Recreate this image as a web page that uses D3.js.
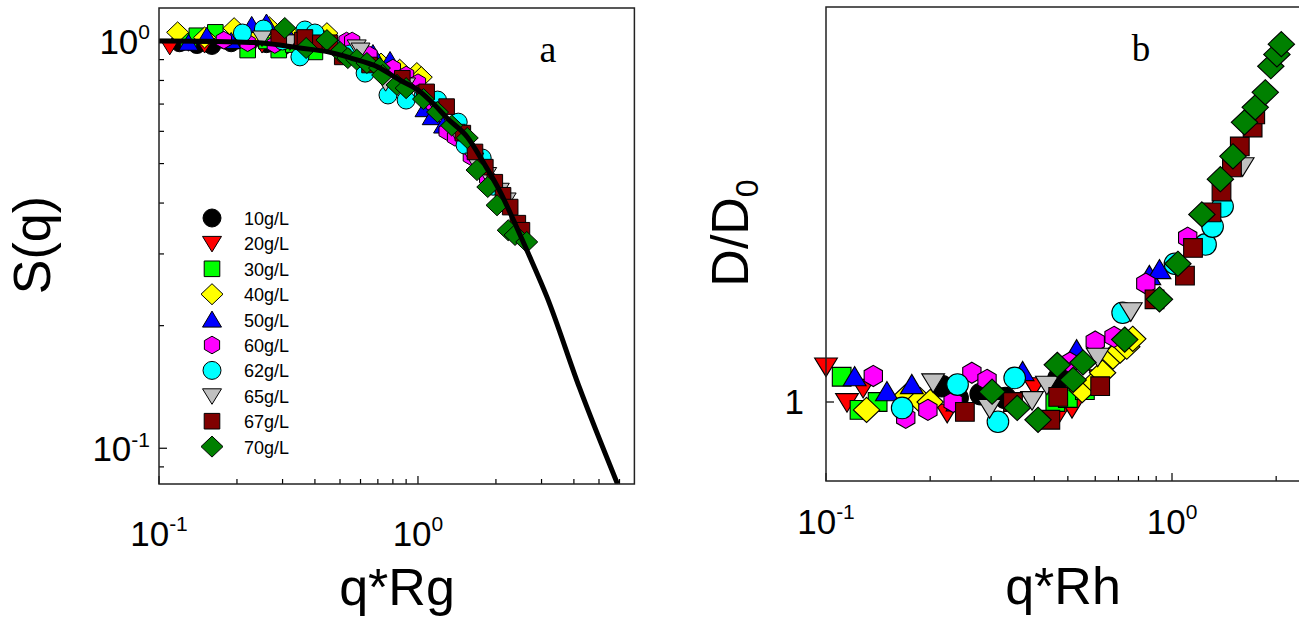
<!DOCTYPE html>
<html><head><meta charset="utf-8">
<script src="https://cdn.jsdelivr.net/npm/d3@7"></script>
<style>
body{margin:0;background:#fff}
svg{display:block}
text{font-family:"Liberation Sans",Arial,Helvetica,sans-serif;fill:#000}
</style>
</head><body>
<svg id="c" width="1299" height="620"></svg>
<script>
// ---------- data ----------
const seriesLabels = ["10g/L","20g/L","30g/L","40g/L","50g/L","60g/L","62g/L","65g/L","67g/L","70g/L"];
const seriesFill   = ["#000000","#ff0000","#00ff00","#ffff00","#0000ff","#ff00ff","#00ffff","#c0c0c0","#800000","#008000"];
const seriesShape  = ["circle","triDown","square","diamond","triUp","hexagon","circle","triDown","square","diamond"];

// panel a : S(q) vs q*Rg
const a10 = [[0.12,0.99],[0.14,0.98],[0.16,0.975],[0.19,0.99],[0.22,0.98],[0.26,0.985],[0.30,0.97],[0.35,0.96]];
const a20 = [[0.11,0.97],[0.13,0.99],[0.15,0.98],[0.18,1.0],[0.21,0.99],[0.25,0.98],[0.29,0.97]];
const a30 = [[0.13,1.0],[0.14,1.03],[0.165,1.05],[0.19,1.0],[0.22,0.95],[0.26,1.0],[0.29,0.95],[0.33,0.98],[0.40,0.94]];
const a40 = [[0.118,1.05],[0.15,1.02],[0.195,1.075],[0.23,1.04],[0.267,1.08],[0.31,1.03],[0.357,1.05],[0.445,1.045],[0.53,0.97],[0.61,0.924],[0.72,0.88],[0.85,0.85],[0.99,0.834],[1.03,0.815]];
const a50 = [[0.13,0.99],[0.153,1.03],[0.19,1.0],[0.228,1.095],[0.26,1.11],[0.32,1.02],[0.40,1.0],[0.52,0.96],[0.67,0.934],[0.78,0.898],[0.92,0.8],[1.06,0.68],[1.13,0.65],[1.25,0.62]];
const a60 = [[0.178,1.005],[0.22,0.99],[0.28,0.98],[0.35,1.0],[0.42,1.02],[0.53,1.0],[0.557,1.0],[0.65,0.924],[0.8,0.858],[0.9,0.825],[1.0,0.79],[1.15,0.7],[1.29,0.6],[1.39,0.58],[1.6,0.52],[1.85,0.46]];
const a62 = [[0.21,1.046],[0.253,1.07],[0.30,1.0],[0.35,0.914],[0.366,1.064],[0.40,1.046],[0.46,0.98],[0.55,0.93],[0.625,0.834],[0.766,0.737],[0.9,0.716],[1.05,0.74],[1.19,0.716],[1.43,0.632],[1.52,0.555],[1.77,0.516],[1.95,0.44]];
const a65 = [[0.25,1.017],[0.32,0.995],[0.45,0.98],[0.58,0.967],[0.6,0.95],[0.75,0.79],[0.9,0.78],[1.05,0.73],[1.2,0.68],[1.4,0.6],[1.65,0.51],[1.85,0.47],[2.07,0.43],[2.2,0.407]];
const a67 = [[0.29,1.02],[0.357,1.005],[0.366,1.02],[0.42,0.99],[0.457,0.99],[0.51,0.914],[0.65,0.873],[0.87,0.81],[1.06,0.745],[1.08,0.75],[1.29,0.69],[1.49,0.594],[1.66,0.534],[1.82,0.49],[1.98,0.45],[2.13,0.418],[2.27,0.391],[2.43,0.357],[2.52,0.343]];
const a70 = [[0.306,1.076],[0.37,0.961],[0.445,1.005],[0.5,0.94],[0.536,0.908],[0.58,0.9],[0.635,0.883],[0.71,0.858],[0.73,0.825],[0.83,0.78],[0.9,0.766],[1.05,0.72],[1.19,0.669],[1.35,0.62],[1.55,0.578],[1.69,0.482],[1.86,0.438],[2.02,0.395],[2.23,0.343],[2.37,0.334],[2.63,0.321]];
const seriesA = [a10,a20,a30,a40,a50,a60,a62,a65,a67,a70];

// fitted curve in panel a
const curveQ = [0.1,0.15,0.2,0.25,0.35,0.45,0.55,0.7,0.85,1.0,1.15,1.3,1.55,1.8,2.07,2.4,2.66,3.15,4.2,5.9];
const curveS = [1.0,0.998,0.994,0.989,0.961,0.94,0.908,0.863,0.802,0.758,0.70,0.645,0.581,0.50,0.428,0.35,0.302,0.235,0.141,0.0816];

// panel b : D/D0 vs q*Rh
const b10 = [[0.216,1.04],[0.24,1.01],[0.28,1.02],[0.33,1.01],[0.47,1.06]];
const b20 = [[0.1,1.09],[0.115,1.0],[0.128,1.036],[0.224,0.973],[0.40,1.04],[0.47,0.97],[0.514,0.985],[0.62,1.06]];
const b30 = [[0.111,1.064],[0.125,0.98],[0.141,1.0],[0.46,1.0],[0.5,1.01],[0.56,1.03]];
const b40 = [[0.131,0.98],[0.17,1.013],[0.187,1.005],[0.2,1.0],[0.55,1.03],[0.6,1.05],[0.63,1.074],[0.675,1.115],[0.708,1.13],[0.74,1.14],[0.77,1.16]];
const b50 = [[0.121,1.064],[0.15,1.026],[0.177,1.044],[0.24,1.0],[0.37,1.077],[0.53,1.132],[0.86,1.32],[0.92,1.335]];
const b60 = [[0.137,1.066],[0.17,0.96],[0.197,0.98],[0.233,1.0],[0.264,1.074],[0.292,1.056],[0.507,1.1],[0.60,1.153],[0.68,1.165],[0.84,1.30],[1.11,1.416]];
const b62 = [[0.166,0.985],[0.24,1.044],[0.314,0.95],[0.351,1.061],[0.72,1.226],[1.02,1.35],[1.25,1.399],[1.31,1.444],[1.40,1.495]];
const b65 = [[0.204,1.05],[0.297,0.985],[0.394,1.005],[0.435,1.044],[0.61,1.115],[0.76,1.23],[1.6,1.597]];
const b67 = [[0.252,0.975],[0.347,1.0],[0.445,0.955],[0.469,1.013],[0.62,1.04],[0.89,1.26],[1.09,1.32],[1.15,1.39],[1.30,1.48],[1.39,1.533],[1.49,1.594],[1.57,1.647],[1.71,1.695],[1.74,1.728]];
const b70 = [[0.302,1.026],[0.357,0.985],[0.41,0.955],[0.466,1.094],[0.518,1.056],[0.553,1.1],[0.73,1.158],[0.92,1.26],[1.04,1.35],[1.22,1.475],[1.38,1.564],[1.50,1.622],[1.62,1.708],[1.74,1.746],[1.86,1.784],[1.93,1.85],[2.01,1.88],[2.07,1.906]];
const seriesB = [b10,b20,b30,b40,b50,b60,b62,b65,b67,b70];

// tick values
const aXMajor = [0.1,1];
const aXMinor = [0.2,0.3,0.4,0.5,0.6,0.7,0.8,0.9,2,3,4,5,6];
const aYMajor = [0.1,1];
const aYMinor = [0.09,0.2,0.3,0.4,0.5,0.6,0.7,0.8,0.9];
const bXMajor = [0.1,1];
const bXMinor = [0.2,0.3,0.4,0.5,0.6,0.7,0.8,0.9,2];
const bYMajor = [1];

// ---------- drawing ----------
const svg = d3.select("#c");

function shapePath(type, s){
  const p = d3.path();
  if(type==="circle"){ p.arc(0,0,9*s,0,2*Math.PI); p.closePath(); }
  else if(type==="triDown"){ p.moveTo(-9.5*s,-7*s); p.lineTo(9.5*s,-7*s); p.lineTo(0,8.5*s); p.closePath(); }
  else if(type==="triUp"){ p.moveTo(-9.5*s,7.5*s); p.lineTo(9.5*s,7.5*s); p.lineTo(0,-8.5*s); p.closePath(); }
  else if(type==="square"){ const h=7.8*s; p.rect(-h,-h,2*h,2*h); }
  else if(type==="diamond"){ p.moveTo(0,-10.5*s); p.lineTo(11*s,0); p.lineTo(0,10.5*s); p.lineTo(-11*s,0); p.closePath(); }
  else if(type==="hexagon"){ const r=8.8*s; for(let k=0;k<6;k++){const a=(-90+60*k)*Math.PI/180; const x=r*Math.cos(a), y=r*Math.sin(a); if(k===0)p.moveTo(x,y); else p.lineTo(x,y);} p.closePath(); }
  return p.toString();
}

function powLabel(g, x, y, base, exp, anchor, size, supSize){
  const t = g.append("text").attr("x",x).attr("y",y).attr("text-anchor",anchor).style("font-size",size+"px");
  t.append("tspan").text(base);
  t.append("tspan").attr("dy",-size*0.42).style("font-size",supSize+"px").text(exp);
  return t;
}

function ticks(g, scale, vals, orient, pos, len){
  vals.forEach(v=>{
    const p = scale(v);
    if(orient==="bottom") g.append("line").attr("x1",p).attr("x2",p).attr("y1",pos).attr("y2",pos-len);
    else g.append("line").attr("y1",p).attr("y2",p).attr("x1",pos).attr("x2",pos+len);
  });
}

// ===== panel a =====
const ax = d3.scaleLog().domain([0.1,6.85]).range([159,634.4]);
const ay = d3.scaleLog().domain([0.0817,1.205]).range([484,8]);
const ga = svg.append("g");
svg.append("defs").append("clipPath").attr("id","clipA").append("rect")
  .attr("x",159).attr("y",8).attr("width",634.4-159).attr("height",476);

const tka = ga.append("g").attr("stroke","#000").attr("stroke-width",1.2);
ticks(tka, ax, aXMajor, "bottom", 484, 8);
ticks(tka, ax, aXMinor, "bottom", 484, 5);
ticks(tka, ay, aYMajor, "left", 159, 8);
ticks(tka, ay, aYMinor, "left", 159, 5);

// markers
seriesA.forEach((ser,i)=>{
  ga.append("g").selectAll("path").data(ser).join("path")
    .attr("d", shapePath(seriesShape[i],1))
    .attr("transform", d=>`translate(${ax(d[0])},${ay(d[1])})`)
    .attr("fill", seriesFill[i]).attr("stroke","#000").attr("stroke-width",1);
});
// curve
const curveData = curveQ.map((q,i)=>[q,curveS[i]]);
ga.append("path").datum(curveData)
  .attr("clip-path","url(#clipA)")
  .attr("d", d3.line().x(d=>ax(d[0])).y(d=>ay(d[1])).curve(d3.curveMonotoneX))
  .attr("fill","none").attr("stroke","#000").attr("stroke-width",5);

ga.append("rect").attr("x",159).attr("y",8).attr("width",634.4-159).attr("height",476)
  .attr("fill","none").attr("stroke","#222").attr("stroke-width",1.5);

// legend
const lg = ga.append("g");
seriesLabels.forEach((lab,i)=>{
  const y = 218 + i*25.4;
  lg.append("path").attr("d", shapePath(seriesShape[i],1)).attr("transform",`translate(212,${y})`)
    .attr("fill",seriesFill[i]).attr("stroke","#000").attr("stroke-width",1);
  lg.append("text").attr("x",244).attr("y",y+7).style("font-size","18px").text(lab);
});

// tick labels a
powLabel(ga, ax(0.1), 546, "10", "-1", "middle", 35, 21);
powLabel(ga, ax(1), 546, "10", "0", "middle", 35, 21);
powLabel(ga, 150, ay(1)+13, "10", "0", "end", 35, 21);
powLabel(ga, 150, ay(0.1)+13, "10", "-1", "end", 35, 21);

ga.append("text").attr("transform","translate(50,245) rotate(-90)").attr("text-anchor","middle")
  .style("font-size","52px").text("S(q)");
ga.append("text").attr("x",397).attr("y",605).attr("text-anchor","middle").style("font-size","52px").text("q*Rg");
ga.append("text").attr("x",548).attr("y",62).attr("text-anchor","middle")
  .style("font-family","'Liberation Serif','Times New Roman',serif").style("font-size","38px").text("a");

// ===== panel b =====
const bx = d3.scaleLog().domain([0.1,2.5]).range([826,1309.7]);
const by = d3.scaleLinear().domain([0.8,2.0]).range([481,7]);
const gb = svg.append("g");

const tkb = gb.append("g").attr("stroke","#000").attr("stroke-width",1.2);
ticks(tkb, bx, bXMajor, "bottom", 481, 8);
ticks(tkb, bx, bXMinor, "bottom", 481, 5);
ticks(tkb, by, bYMajor, "left", 826, 8);

seriesB.forEach((ser,i)=>{
  gb.append("g").selectAll("path").data(ser).join("path")
    .attr("d", shapePath(seriesShape[i],1.2))
    .attr("transform", d=>`translate(${bx(d[0])},${by(d[1])})`)
    .attr("fill", seriesFill[i]).attr("stroke","#000").attr("stroke-width",1.1);
});

gb.append("rect").attr("x",826).attr("y",7).attr("width",1309.7-826).attr("height",474)
  .attr("fill","none").attr("stroke","#222").attr("stroke-width",1.5);

powLabel(gb, bx(0.1), 534, "10", "-1", "middle", 35, 21);
powLabel(gb, bx(1), 534, "10", "0", "middle", 35, 21);
gb.append("text").attr("x",804).attr("y",by(1)+12).attr("text-anchor","end").style("font-size","35px").text("1");

const dl = gb.append("text").attr("transform","translate(748,233) rotate(-90)").attr("text-anchor","middle")
  .style("font-size","52px");
dl.append("tspan").text("D/D");
dl.append("tspan").attr("dy",10).style("font-size","32px").text("0");
gb.append("text").attr("x",1063).attr("y",604).attr("text-anchor","middle").style("font-size","52px").text("q*Rh");
gb.append("text").attr("x",1141).attr("y",61).attr("text-anchor","middle")
  .style("font-family","'Liberation Serif','Times New Roman',serif").style("font-size","37px").text("b");
</script>
</body></html>
